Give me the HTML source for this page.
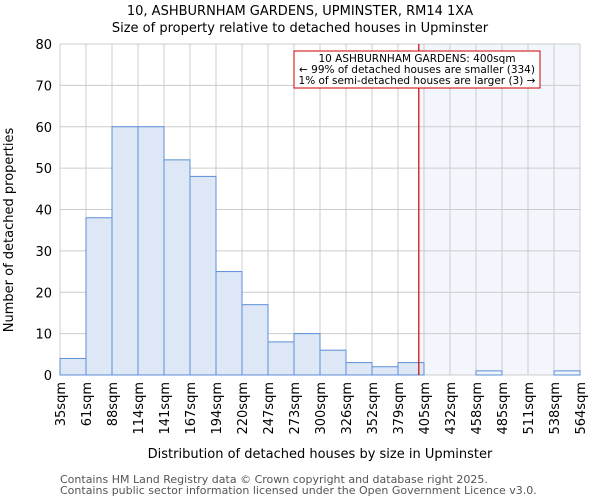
<!DOCTYPE html>
<html><head><meta charset="utf-8"><style>
body{margin:0;background:#fff;font-family:"DejaVu Sans","Liberation Sans",sans-serif;}
svg text{font-family:"DejaVu Sans","Liberation Sans",sans-serif;}
</style></head><body>
<svg id="chart" width="600" height="500" xmlns="http://www.w3.org/2000/svg">
<text x="300" y="15" text-anchor="middle" font-size="13">10, ASHBURNHAM GARDENS, UPMINSTER, RM14 1XA</text>
<text x="300" y="32" text-anchor="middle" font-size="13">Size of property relative to detached houses in Upminster</text>
<g id="grid"></g>
<g id="bars"></g>
<g id="axes"></g>
<text x="13" y="230" text-anchor="middle" font-size="13" transform="rotate(-90 13 230)">Number of detached properties</text>
<text x="320" y="458" text-anchor="middle" font-size="13">Distribution of detached houses by size in Upminster</text>
<text x="60" y="483" font-size="11" fill="#555">Contains HM Land Registry data © Crown copyright and database right 2025.</text>
<text x="60" y="494" font-size="11" fill="#555">Contains public sector information licensed under the Open Government Licence v3.0.</text>
</svg>
<script>
const categories=["35sqm","61sqm","88sqm","114sqm","141sqm","167sqm","194sqm","220sqm","247sqm","273sqm","300sqm","326sqm","352sqm","379sqm","405sqm","432sqm","458sqm","485sqm","511sqm","538sqm","564sqm"];
const counts=[4,38,60,60,52,48,25,17,8,10,6,3,2,3,0,0,1,0,0,1];
const yTicks=[0,10,20,30,40,50,60,70,80];
const markerValue=13.8; // bin position of 400sqm
const NS="http://www.w3.org/2000/svg";
const X0=60,X1=580,Y0=375,Y1=44,YMAX=80;
const bw=(X1-X0)/counts.length;
const xs=i=>X0+i*bw;
const ys=v=>Y0-(v/YMAX)*(Y0-Y1);
function mk(tag,attrs,parent){const e=document.createElementNS(NS,tag);for(const k in attrs)e.setAttribute(k,attrs[k]);parent.appendChild(e);return e;}
const grid=document.getElementById('grid'),bars=document.getElementById('bars'),axes=document.getElementById('axes');
const mx=xs(markerValue);
let sh=mk('rect',{x:mx,y:Y1,width:X1-mx,height:Y0-Y1,fill:'#f3f6fd'},grid);


yTicks.forEach(t=>{
 let l=mk('line',{x1:X0,x2:X1,y1:ys(t),y2:ys(t),stroke:'#ccc','stroke-width':1},grid);
 
 
 let tx=mk('text',{x:X0-8,y:ys(t)+5,'text-anchor':'end','font-size':13},axes);
 tx.textContent=t;
 
 
});
categories.forEach((c,i)=>{
 let l=mk('line',{x1:xs(i),x2:xs(i),y1:Y1,y2:Y0,stroke:'#ccc','stroke-width':1},grid);
 
 
 let tx=mk('text',{x:0,y:0,'text-anchor':'end','font-size':13,transform:`translate(${xs(i)+5},382) rotate(-90)`},axes);
 tx.textContent=c;
 
 
});
counts.forEach((v,i)=>{
 if(v<=0)return;
 const inHi=xs(i)>=mx;
 let r=mk('rect',{x:xs(i),y:ys(v),width:bw,height:Y0-ys(v),fill:inHi?'#eef2fb':'#dde7f5',stroke:'#5b8fd6','stroke-width':1},bars);
 
 
});
let ml=mk('line',{x1:mx,x2:mx,y1:Y1,y2:Y0,stroke:'#cc0000','stroke-width':1.2},bars);


let box=mk('rect',{x:294,y:51,width:246,height:37,fill:'#fff',stroke:'#cc0000','stroke-width':1},bars);


["10 ASHBURNHAM GARDENS: 400sqm","← 99% of detached houses are smaller (334)","1% of semi-detached houses are larger (3) →"].forEach((s,k)=>{
 let t=mk('text',{x:417,y:62+k*11,'text-anchor':'middle','font-size':10.5},bars);
 t.textContent=s;
 
 
});
</script>
</body></html>
